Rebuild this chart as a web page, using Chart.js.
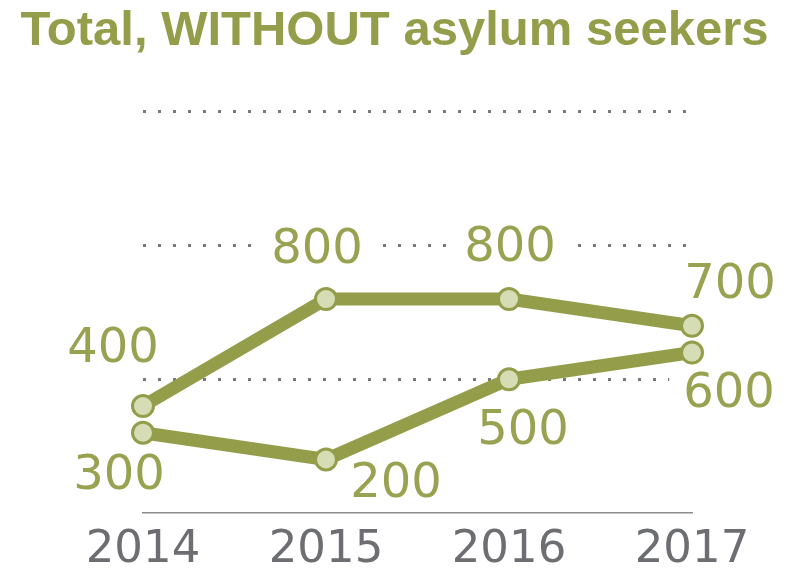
<!DOCTYPE html>
<html>
<head>
<meta charset="utf-8">
<script src="https://cdn.jsdelivr.net/npm/chart.js@4"></script>
<style>
  html, body { margin: 0; padding: 0; background: #fff; }
  #wrap { width: 789px; height: 569px; }
</style>
</head>
<body>
<div id="wrap"><canvas id="myChart"></canvas></div>
<script>
// Chart data
const years = ['2014', '2015', '2016', '2017'];
const upperSeries = [400, 800, 800, 700];
const lowerSeries = [300, 200, 500, 600];
const gridTicks = [0, 500, 1000, 1500];

const olive = 'rgb(148, 158, 74)';
const pointFill = 'rgb(214, 220, 180)';

// where each value label sits relative to its point (px)
const labelOffsets = [
    [[-30, -56], [-9, -48], [1, -50], [38, -40]],
    [[-24, 44], [70, 25], [14, 52], [37, 42]]
];

const valueLabels = {
    id: 'valueLabels',
    beforeDatasetsDraw(chart) {
        // white boxes hide the dotted gridlines behind labels
        const ctx = chart.ctx;
        ctx.save();
        ctx.font = '48px "DejaVu Sans"';
        chart.data.datasets.forEach((ds, di) => {
            chart.getDatasetMeta(di).data.forEach((pt, i) => {
                const [dx, dy] = labelOffsets[di][i];
                const w = ctx.measureText(String(ds.data[i])).width;
                ctx.fillStyle = '#fff';
                ctx.fillRect(pt.x + dx - w / 2 - 14, pt.y + dy - 18, w + 28, 36);
            });
        });
        ctx.restore();
    },
    afterDatasetsDraw(chart) {
        const ctx = chart.ctx;
        ctx.save();
        ctx.font = '48px "DejaVu Sans"';
        ctx.fillStyle = 'rgb(152, 162, 80)';
        ctx.textAlign = 'center';
        ctx.textBaseline = 'middle';
        chart.data.datasets.forEach((ds, di) => {
            chart.getDatasetMeta(di).data.forEach((pt, i) => {
                const [dx, dy] = labelOffsets[di][i];
                ctx.fillText(String(ds.data[i]), pt.x + dx, pt.y + dy);
            });
        });
        ctx.restore();
    }
};

function lineDataset(values) {
    return {
        data: values,
        borderColor: olive,
        borderWidth: 13,
        borderJoinStyle: 'round',
        pointRadius: 10.5,
        pointBorderWidth: 3,
        pointBackgroundColor: pointFill,
        pointBorderColor: olive,
        tension: 0,
        clip: false
    };
}

const ctx = document.getElementById('myChart').getContext('2d');
new Chart(ctx, {
    type: 'line',
    data: {
        labels: years,
        datasets: [lineDataset(upperSeries), lineDataset(lowerSeries)]
    },
    options: {
        responsive: true,
        maintainAspectRatio: false,
        animation: false,
        events: [],
        layout: { padding: 0 },
        plugins: {
            legend: { display: false },
            tooltip: { enabled: false },
            title: {
                display: true,
                text: 'Total, WITHOUT asylum seekers',
                color: olive,
                font: { family: '"Liberation Sans", Arial', size: 49, weight: 'bold', lineHeight: 1.2 },
                padding: { top: 2, bottom: 51 }
            }
        },
        scales: {
            x: {
                offset: false,
                grid: { display: false, drawTicks: false },
                border: { display: true, color: 'rgb(140, 140, 140)', width: 1.5 },
                ticks: {
                    color: 'rgb(109, 110, 113)',
                    font: { family: '"DejaVu Sans"', size: 45 },
                    padding: 10,
                    maxRotation: 0
                },
                afterFit(scale) { scale.height = 56; }
            },
            y: {
                min: 0,
                max: 1500,
                afterBuildTicks(scale) {
                    scale.ticks = gridTicks.map(v => ({ value: v }));
                },
                ticks: { display: false },
                border: { display: false, dash: [3, 12] },
                grid: {
                    drawTicks: false,
                    lineWidth: 3,
                    color: c => c.tick && c.tick.value === 0 ? 'rgba(0,0,0,0)' : 'rgb(120, 120, 125)'
                },
                afterFit(scale) { scale.width = 143; }
            },
            yRight: {
                position: 'right',
                ticks: { display: false },
                grid: { display: false, drawTicks: false },
                border: { display: false },
                afterFit(scale) { scale.width = 97; }
            }
        }
    },
    plugins: [valueLabels]
});
</script>
</body>
</html>
